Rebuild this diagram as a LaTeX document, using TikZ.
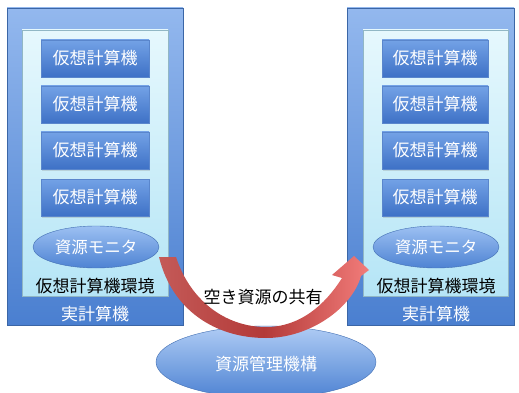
\documentclass[tikz,border=0pt]{standalone}
\usepackage{fontspec}
\setmainfont{Noto Sans CJK JP}
\usetikzlibrary{shadows,shapes.geometric}
\definecolor{outtop}{HTML}{93B8EE}
\definecolor{outbot}{HTML}{4A7FD0}
\definecolor{intop}{HTML}{E6F8FD}
\definecolor{inbot}{HTML}{B5E5F6}
\definecolor{vmtop}{HTML}{73A2E6}
\definecolor{vmbot}{HTML}{3E71C6}
\definecolor{vmline}{HTML}{5A86CC}
\definecolor{eltop}{HTML}{9CC0F2}
\definecolor{elbot}{HTML}{4E83D3}
\definecolor{arrA}{HTML}{C45A58}
\definecolor{arrB}{HTML}{B33A38}
\definecolor{arrC}{HTML}{F27C7A}
\tikzset{
  outerbox/.style={rectangle, inner sep=0pt, top color=outtop, bottom color=outbot, draw=outbot!80!black, line width=0.4pt},
  innerbox/.style={rectangle, inner sep=0pt, top color=intop, bottom color=inbot, draw=inbot!80!black, line width=0.4pt},
  vmbox/.style={rectangle, inner sep=0pt, minimum width=108pt, minimum height=37pt, top color=vmtop, bottom color=vmbot, draw=vmline, line width=0.4pt, drop shadow={opacity=0.25, shadow xshift=0.8pt, shadow yshift=-1.5pt}, text=white, font=\fontsize{17}{19}\selectfont},
  monitor/.style={ellipse, inner sep=0pt, minimum width=126pt, minimum height=42pt, top color=eltop, bottom color=elbot, draw=elbot!85!black, line width=0.4pt, text=white, font=\fontsize{16.5}{19}\selectfont},
  whitelabel/.style={text=white, inner sep=0pt, font=\fontsize{17}{19}\selectfont},
  blacklabel/.style={text=black, inner sep=0pt, font=\fontsize{17}{19}\selectfont},
}
\begin{document}
\begin{tikzpicture}[x=1pt,y=-1pt]
\clip (0,0) rectangle (519,393);
\fill[white] (0,0) rectangle (519,393);
% left machine
\node[outerbox, minimum width=176pt, minimum height=317pt] (Lout) at (95,166.5) {};
\node[innerbox, minimum width=146pt, minimum height=266pt] (Lin) at (95,163) {};
\node[vmbox] (Lvm1) at (95,58.5) {仮想計算機};
\node[vmbox] (Lvm2) at (95,104.5) {仮想計算機};
\node[vmbox] (Lvm3) at (95,150.5) {仮想計算機};
\node[vmbox] (Lvm4) at (95,197.5) {仮想計算機};
\node[monitor] (Lmon) at (96,247) {資源モニタ};
\node[blacklabel] (Lenv) at (95,286) {仮想計算機環境};
\node[whitelabel] (Lreal) at (95,314) {実計算機};
% right machine
\node[outerbox, minimum width=167pt, minimum height=317pt] (Rout) at (430.5,166.5) {};
\node[innerbox, minimum width=145pt, minimum height=266pt] (Rin) at (435.5,163) {};
\node[vmbox, minimum width=106pt] (Rvm1) at (435,58.5) {仮想計算機};
\node[vmbox, minimum width=106pt] (Rvm2) at (435,104.5) {仮想計算機};
\node[vmbox, minimum width=106pt] (Rvm3) at (435,150.5) {仮想計算機};
\node[vmbox, minimum width=106pt] (Rvm4) at (435,197.5) {仮想計算機};
\node[monitor] (Rmon) at (436,247) {資源モニタ};
\node[blacklabel] (Renv) at (436,286) {仮想計算機環境};
\node[whitelabel] (Rreal) at (436,314) {実計算機};
% resource manager
\node[ellipse, inner sep=0pt, minimum width=220pt, minimum height=72pt, top color=eltop!80!white, bottom color=elbot, draw=elbot!85!black, line width=0.4pt] (mgr) at (266,362) {};
\node[whitelabel] (mgrlabel) at (266,364) {資源管理機構};
% curved arrow
\path[left color=arrA, right color=arrC, middle color=arrB]
  (159,257) .. controls (172,310) and (215,338) .. (266,338)
  .. controls (310,338) and (352,308) .. (361,276)
  -- (369,270) -- (354,256) -- (332,275) -- (342,278)
  .. controls (325,305) and (300,327) .. (266,327)
  .. controls (225,327) and (190,300) .. (176,257) -- cycle;
\node[blacklabel] (share) at (263,297) {空き資源の共有};
\end{tikzpicture}
\end{document}
